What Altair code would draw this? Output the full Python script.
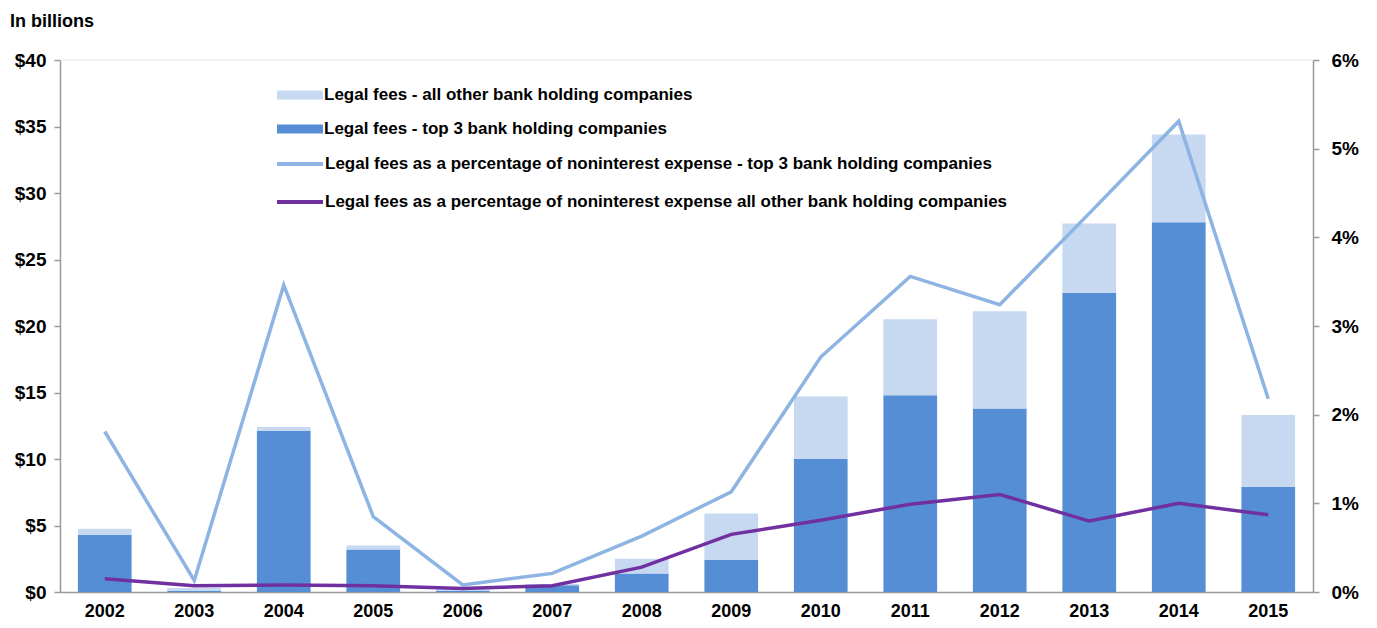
import altair as alt
import pandas as pd

years = [str(y) for y in range(2002, 2016)]
top3_fees = [4.3, 0.1, 12.1, 3.2, 0.1, 0.5, 1.4, 2.4, 10.0, 14.8, 13.8, 22.5, 27.8, 7.9]
other_fees = [0.45, 0.2, 0.3, 0.3, 0.1, 0.1, 1.1, 3.5, 4.7, 5.7, 7.3, 5.2, 6.6, 5.4]
top3_pct = [1.81, 0.13, 3.46, 0.85, 0.08, 0.21, 0.63, 1.13, 2.65, 3.56, 3.24, 4.27, 5.31, 2.18]
other_pct = [0.15, 0.07, 0.08, 0.07, 0.04, 0.07, 0.28, 0.65, 0.81, 0.99, 1.10, 0.80, 1.00, 0.87]

bar_names = ["Legal fees - all other bank holding companies",
             "Legal fees - top 3 bank holding companies"]
line_names = ["Legal fees as a percentage of noninterest expense - top 3 bank holding companies",
              "Legal fees as a percentage of noninterest expense all other bank holding companies"]

FONT = "Liberation Sans Narrow, Arial Narrow, Liberation Sans, Arial, sans-serif"

bars_df = pd.DataFrame(
    [{"year": y, "series": bar_names[1], "value": v, "ord": 0} for y, v in zip(years, top3_fees)]
    + [{"year": y, "series": bar_names[0], "value": v, "ord": 1} for y, v in zip(years, other_fees)]
)
lines_df = pd.DataFrame(
    [{"year": y, "series": line_names[0], "pct": v} for y, v in zip(years, top3_pct)]
    + [{"year": y, "series": line_names[1], "pct": v} for y, v in zip(years, other_pct)]
)

x_enc = alt.X("year:N", sort=years, title=None,
              scale=alt.Scale(paddingInner=0.4, paddingOuter=0.2),
              axis=alt.Axis(labelAngle=0, labelFont=FONT, labelFontSize=18,
                            labelFontWeight="bold", labelColor="#000",
                            ticks=False, labelPadding=10, domainColor="#999",
                            domainWidth=1.5))

bar_path = "M-1,-0.2L1,-0.2L1,0.2L-1,0.2Z"

bars = alt.Chart(bars_df).mark_bar().encode(
    x=x_enc,
    y=alt.Y("value:Q", stack="zero", title=None,
            scale=alt.Scale(domain=[0, 40]),
            axis=alt.Axis(values=list(range(0, 41, 5)), labelExpr="'$' + datum.value",
                          labelFont=FONT, labelFontSize=19, labelFontWeight="bold",
                          labelColor="#000", grid=False, domainColor="#999",
                          domainWidth=1.5, tickColor="#999", tickSize=6,
                          tickWidth=1.5, labelPadding=8, orient="left")),
    fill=alt.Fill("series:N", title=None,
                  scale=alt.Scale(domain=bar_names, range=["#C6D9F1", "#558ED5"]),
                  legend=alt.Legend(orient="none", legendX=217, legendY=12,
                                    symbolType=bar_path, symbolSize=2116,
                                    symbolStrokeWidth=0, padding=0,
                                    labelFont=FONT, labelFontSize=17,
                                    labelFontWeight="bold", labelColor="#000",
                                    labelOffset=1, rowPadding=3, labelLimit=900)),
    order=alt.Order("ord:Q"),
)

lines = alt.Chart(lines_df).mark_line(strokeWidth=3.5).encode(
    x=alt.X("year:N", sort=years),
    y=alt.Y("pct:Q", title=None, scale=alt.Scale(domain=[0, 6]),
            axis=alt.Axis(values=list(range(0, 7)), labelExpr="datum.value + '%'",
                          labelFont=FONT, labelFontSize=19, labelFontWeight="bold",
                          labelColor="#000", grid=False, domainColor="#999",
                          domainWidth=1.5, tickColor="#999", tickSize=6,
                          tickWidth=1.5, labelPadding=12, orient="right")),
    stroke=alt.Stroke("series:N", title=None,
                      scale=alt.Scale(domain=line_names, range=["#8DB4E2", "#7030A0"]),
                      legend=alt.Legend(orient="none", legendX=215, legendY=79,
                                        symbolType="stroke", symbolSize=2116,
                                        symbolStrokeWidth=4, padding=0,
                                        labelFont=FONT, labelFontSize=17,
                                        labelFontWeight="bold", labelColor="#000",
                                        labelOffset=0, rowPadding=5, labelLimit=900)),
)

top_rule = alt.Chart(pd.DataFrame({"k": [0]})).mark_rule(color="#e6e6e6", strokeWidth=1).encode(
    x=alt.value(0), x2=alt.value(1253), y=alt.value(0)
)

title_txt = alt.Chart(pd.DataFrame({"t": ["In billions"]})).mark_text(
    align="left", baseline="alphabetic", font=FONT, fontSize=18, fontWeight="bold", color="#000"
).encode(text="t:N", x=alt.value(-50), y=alt.value(-33))

chart = alt.layer(top_rule, bars, lines, title_txt).resolve_scale(
    y="independent", fill="independent", stroke="independent"
).properties(
    width=1253, height=532,
    padding={"left": 52, "top": 52, "right": 50, "bottom": 28},
    autosize=alt.AutoSizeParams(type="none"),
).configure_view(stroke=None)

chart.save("out.html", embed_options={"renderer": "svg", "actions": False})
